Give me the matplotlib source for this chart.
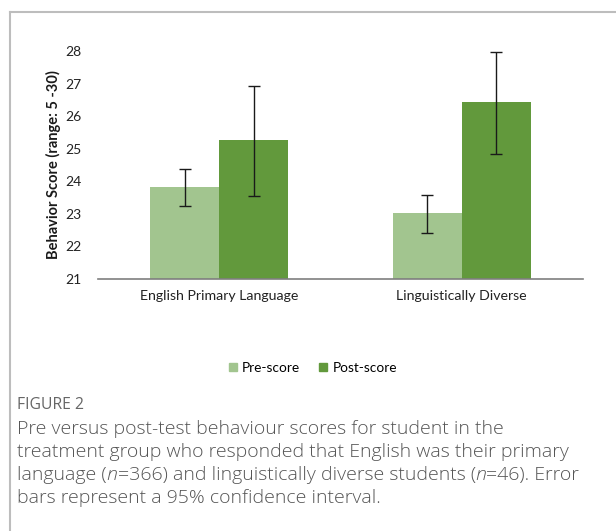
import matplotlib
matplotlib.use("Agg")
import matplotlib.pyplot as plt
from matplotlib.lines import Line2D
import numpy as np

categories = ["English Primary Language", "Linguistically Diverse"]
series = ["Pre-score", "Post-score"]
pre_mean = [23.81, 23.02]
post_mean = [25.27, 26.42]
pre_lo = [23.24, 22.42]
pre_hi = [24.39, 23.57]
post_lo = [23.55, 24.83]
post_hi = [26.92, 27.98]
yticks = [21, 22, 23, 24, 25, 26, 27, 28]

pre_color = "#a2c58f"
post_color = "#62993c"

W, H = 616, 531
fig = plt.figure(figsize=(W / 100, H / 100), dpi=100)

# frame lines (left and top)
fig.add_artist(Line2D([9.5 / W, 9.5 / W], [0, 1 - 11.5 / H], transform=fig.transFigure,
                      color="#bdbdbd", lw=1.5))
fig.add_artist(Line2D([9.5 / W, 1], [1 - 11.5 / H, 1 - 11.5 / H], transform=fig.transFigure,
                      color="#bdbdbd", lw=1.5))

ax_l, ax_r, ax_t, ax_b = 98, 583, 51, 279
ax = fig.add_axes([ax_l / W, 1 - ax_b / H, (ax_r - ax_l) / W, (ax_b - ax_t) / H])

x = np.arange(len(categories))
bw = 0.285
pre_err = [np.subtract(pre_mean, pre_lo), np.subtract(pre_hi, pre_mean)]
post_err = [np.subtract(post_mean, post_lo), np.subtract(post_hi, post_mean)]
ax.bar(x - bw / 2, pre_mean, bw, bottom=0, color=pre_color, label=series[0],
       yerr=pre_err, error_kw=dict(ecolor="#1a1a1a", elinewidth=1.0, capsize=4, capthick=1.0))
ax.bar(x + bw / 2, post_mean, bw, bottom=0, color=post_color, label=series[1],
       yerr=post_err, error_kw=dict(ecolor="#1a1a1a", elinewidth=1.0, capsize=4, capthick=1.0))

ax.set_ylim(21, 28)
ax.set_xlim(-0.5, 1.5)
ax.set_yticks(yticks)
ax.set_yticklabels([str(t) for t in yticks], fontsize=10, family="Lato", color="#222222")
ax.set_xticks(x)
ax.set_xticklabels(categories, fontsize=10.2, family="Lato", color="#222222")
ax.tick_params(axis="both", length=0)
ax.tick_params(axis="y", pad=12)
ax.tick_params(axis="x", pad=8)
for s in ["top", "right", "left"]:
    ax.spines[s].set_visible(False)
ax.spines["bottom"].set_color("#7f7f7f")
ax.spines["bottom"].set_linewidth(1.2)
ax.set_ylabel("Behavior Score (range: 5 -30)", fontsize=10.5, fontweight="bold",
              family="Lato", color="#1a1a1a", labelpad=3)

handles = [plt.Rectangle((0, 0), 1, 1, color=pre_color), plt.Rectangle((0, 0), 1, 1, color=post_color)]
fig.legend(handles, series, loc="center", bbox_to_anchor=(313 / W, 1 - 368 / H), ncol=2,
           frameon=False, prop=dict(family="Lato", size=9.8), handlelength=0.55, handleheight=0.55,
           handletextpad=0.4, columnspacing=1.4)

fig.text(17 / W, 1 - 405 / H, "FIGURE 2", fontsize=11.3, family="Open Sans", color="#666666",
         va="center", ha="left")

# caption lines as segments: (text, italic)
caption = [
    [("Pre versus post-test behaviour scores for student in the", False)],
    [("treatment group who responded that English was their primary", False)],
    [("language (", False), ("n", True), ("=366) and linguistically diverse students (", False),
     ("n", True), ("=46). Error", False)],
    [("bars represent a 95% confidence interval.", False)],
]
ys = [429, 452, 475, 498]
renderer = fig.canvas.get_renderer()
for segs, yy in zip(caption, ys):
    xpos = 17.0
    for txt, it in segs:
        t = fig.text(xpos / W, 1 - yy / H, txt, fontsize=14, family="Open Sans",
                     fontweight="light", style="italic" if it else "normal",
                     color="#555555", va="center", ha="left")
        bb = t.get_window_extent(renderer=renderer)
        xpos += bb.width

fig.savefig("out.png", dpi=100)
